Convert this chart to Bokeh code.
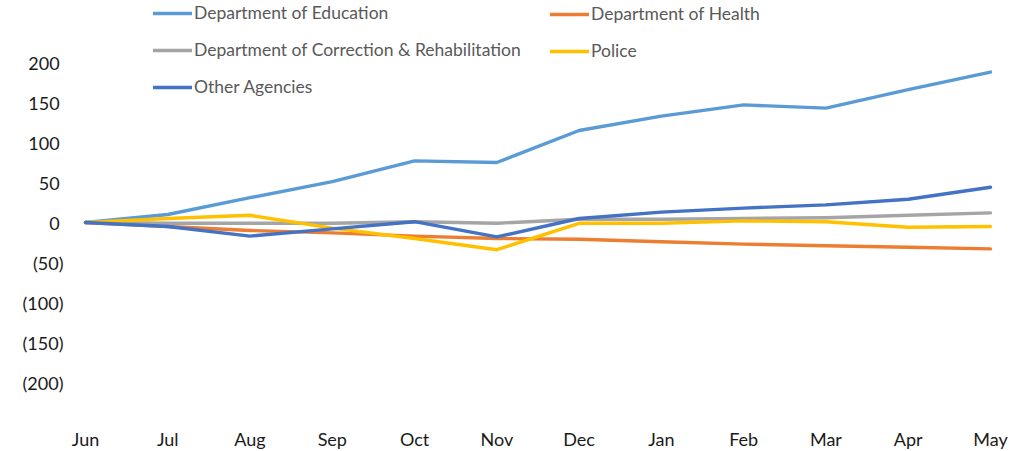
from bokeh.plotting import figure
from bokeh.models import Legend, LegendItem, FixedTicker
from bokeh.embed import file_html
from bokeh.resources import INLINE

months = ["Jun", "Jul", "Aug", "Sep", "Oct", "Nov", "Dec", "Jan", "Feb", "Mar", "Apr", "May"]
education = [0, 10, 31, 51, 77, 75, 115, 133, 147, 143, 166, 188]
health = [0, -5, -10, -13, -17, -20, -21, -24, -27, -29, -31, -33]
correction = [0, -1, -1, -1, 1, -1, 4, 4, 5, 6, 9, 12]
police = [0, 5, 9, -7, -20, -34, -1, -1, 2, 1, -6, -5]
other = [0, -5, -17, -8, 1, -18, 5, 13, 18, 22, 29, 44]

names = ["Department of Education", "Department of Health",
         "Department of Correction & Rehabilitation", "Police", "Other Agencies"]
colors = ["#5B9BD5", "#ED7D31", "#A5A5A5", "#FFC000", "#4472C4"]
series = [education, health, correction, police, other]
y_ticks = [-200, -150, -100, -50, 0, 50, 100, 150, 200]

FONT = "Lato"
AXFS = "18px"
LEGFS = "17.5px"

x = list(range(len(months)))
px_per_cat = 82.27
x_start = -15 / px_per_cat
frame_w = 936
frame_h = 422
y_top = 222 / 0.8
y_bottom = y_top - frame_h / 0.8

p = figure(output_backend="svg", toolbar_location=None,
           frame_width=frame_w, frame_height=frame_h,
           x_range=(x_start, x_start + frame_w / px_per_cat),
           y_range=(y_bottom, y_top),
           min_border_left=70, min_border_top=0, min_border_bottom=0,
           min_border_right=4)
p.outline_line_color = None
p.xgrid.visible = False
p.ygrid.visible = False
p.background_fill_color = "white"
p.border_fill_color = "white"

renderers = []
for s, c in zip(series, colors):
    r = p.line(x, s, line_color=c, line_width=3.4, line_join="round", line_cap="round")
    renderers.append(r)

for ax in (p.xaxis[0], p.yaxis[0]):
    ax.axis_line_color = None
    ax.major_tick_line_color = None
    ax.minor_tick_line_color = None
    ax.major_tick_out = 0
    ax.major_tick_in = 0
    ax.minor_tick_out = 0
    ax.major_label_text_font = FONT
    ax.major_label_text_font_size = AXFS
    ax.major_label_text_color = "#1a1a1a"

p.xaxis[0].ticker = FixedTicker(ticks=x)
p.xaxis[0].major_label_overrides = {i: m for i, m in enumerate(months)}
p.xaxis[0].major_label_standoff = 5

p.yaxis[0].ticker = FixedTicker(ticks=y_ticks)
p.yaxis[0].major_label_overrides = {t: (f"({abs(t)})" if t < 0 else f"{t}\u2008") for t in y_ticks}
p.yaxis[0].major_label_standoff = 7

ROW = 20
SP = 16


def make_legend(idxs, vx):
    n = len(idxs)
    height = n * ROW + (n - 1) * SP
    top_from_bottom = frame_h - 5
    leg = Legend(items=[LegendItem(label=names[i], renderers=[renderers[i]]) for i in idxs],
                 location=(vx, top_from_bottom - height), orientation="vertical",
                 glyph_width=39, glyph_height=ROW, label_height=ROW,
                 label_standoff=2, spacing=SP, padding=0, margin=0,
                 border_line_color=None, background_fill_alpha=0,
                 label_text_font=FONT, label_text_font_size=LEGFS,
                 label_text_color="#595959")
    return leg


p.add_layout(make_legend([0, 2, 4], 83), "center")
p.add_layout(make_legend([1, 3], 480), "center")

open("out.html", "w").write(file_html(p, INLINE))
